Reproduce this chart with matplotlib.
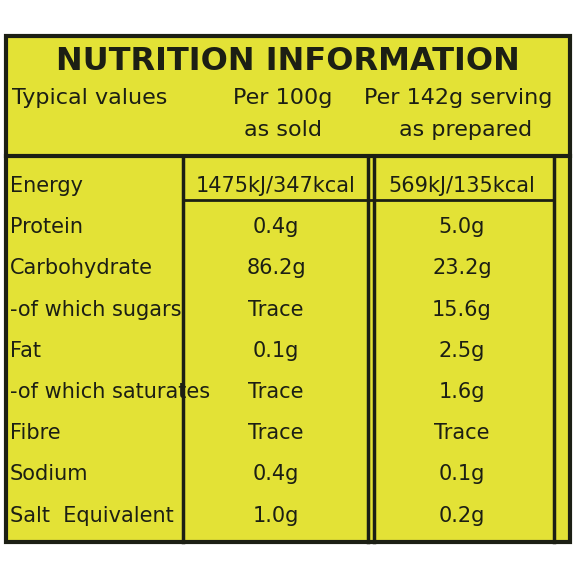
import matplotlib.pyplot as plt
from matplotlib.patches import Rectangle

rows = ["Energy", "Protein", "Carbohydrate", "-of which sugars", "Fat",
        "-of which saturates", "Fibre", "Sodium", "Salt  Equivalent"]
per100 = ["1475kJ/347kcal", "0.4g", "86.2g", "Trace", "0.1g",
          "Trace", "Trace", "0.4g", "1.0g"]
per142 = ["569kJ/135kcal", "5.0g", "23.2g", "15.6g", "2.5g",
          "1.6g", "Trace", "0.1g", "0.2g"]

yellow = "#e3e236"
ink = "#1c1f14"

fig = plt.figure(figsize=(5.76, 5.76), dpi=100)
ax = fig.add_axes([0, 0, 1, 1])
ax.set_xlim(0, 576)
ax.set_ylim(576, 0)
ax.axis("off")

ax.add_patch(Rectangle((6, 36), 564, 506, fc=yellow, ec=ink, lw=3))
ax.plot([6, 570], [156, 156], color=ink, lw=3)
for x in [183, 368, 374, 554]:
    ax.plot([x, x], [156, 542], color=ink, lw=2.5)
ax.plot([183, 554], [200, 200], color=ink, lw=2)

ax.text(288, 62, "NUTRITION INFORMATION", ha="center", va="center",
        fontsize=23, fontweight="bold", color=ink)
ax.text(12, 98, "Typical values", va="center", fontsize=16, color=ink)
ax.text(283, 98, "Per 100g", ha="center", va="center", fontsize=16, color=ink)
ax.text(283, 130, "as sold", ha="center", va="center", fontsize=16, color=ink)
ax.text(458, 98, "Per 142g serving", ha="center", va="center", fontsize=16, color=ink)
ax.text(466, 130, "as prepared", ha="center", va="center", fontsize=16, color=ink)

# labels are cut at the first column line, as on the label
clip = Rectangle((6, 156), 176, 386, transform=ax.transData, fc="none", ec="none")
ax.add_patch(clip)

for i, (r, a, b) in enumerate(zip(rows, per100, per142)):
    y = 186 + i * 41.2
    t = ax.text(10, y, r, va="center", fontsize=15, color=ink)
    t.set_clip_path(clip)
    ax.text(276, y, a, ha="center", va="center", fontsize=15, color=ink)
    ax.text(462, y, b, ha="center", va="center", fontsize=15, color=ink)

fig.savefig("out.png", dpi=100, facecolor="white")
